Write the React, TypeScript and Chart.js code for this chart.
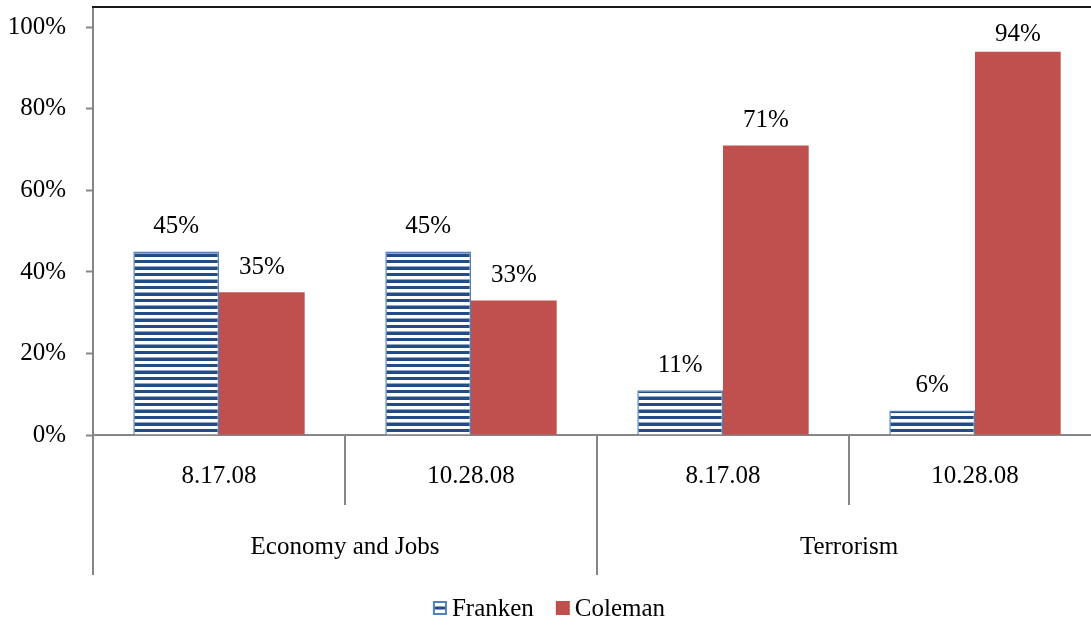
import React, { useEffect, useRef } from "react";
import { Chart, registerables } from "chart.js";

Chart.register(...registerables);

// ---- data ----
const categories: string[] = ["8.17.08", "10.28.08", "8.17.08", "10.28.08"];
const groups: string[] = ["Economy and Jobs", "Terrorism"];
const groupSizes: number[] = [2, 2];
const franken: number[] = [0.45, 0.45, 0.11, 0.06];
const coleman: number[] = [0.35, 0.33, 0.71, 0.94];
const seriesNames: string[] = ["Franken", "Coleman"];
const yTickValues: number[] = [0, 0.2, 0.4, 0.6, 0.8, 1.0];

// ---- styles ----
const FONT_FAMILY = "'Liberation Serif', 'Times New Roman', serif";
const FONT_SIZE = 25;
const AXIS_GRAY = "#868686";
const BLUE_BORDER = "#4F81BD";
const BLUE_DARK = "#234C84";
const RED = "#C0504D";

function makeStripePattern(): CanvasPattern | string {
  const c = document.createElement("canvas");
  c.width = 4;
  c.height = 13;
  const g = c.getContext("2d");
  if (!g) return BLUE_DARK;
  const rows = ["D", "D", "D", "W", "W", "W", "M", "D", "D", "D", "W", "W", "W"];
  rows.forEach((r, i) => {
    g.fillStyle = r === "D" ? BLUE_DARK : r === "M" ? "#8FA6C6" : "#FFFFFF";
    g.fillRect(0, i, 4, 1);
  });
  const p = g.createPattern(c, "repeat");
  return p || BLUE_DARK;
}

export default function App() {
  const ref = useRef<HTMLCanvasElement | null>(null);

  useEffect(() => {
    const canvas = ref.current;
    if (!canvas) return;
    const stripes = makeStripePattern();
    const pct = (v: number) => Math.round(v * 100) + "%";

    const topLine = {
      id: "topLine",
      afterDraw(chart: any) {
        const { ctx, chartArea } = chart;
        ctx.save();
        ctx.strokeStyle = "#1a1a1a";
        ctx.lineWidth = 2;
        ctx.beginPath();
        ctx.moveTo(chartArea.left - 1, chartArea.top);
        ctx.lineTo(chartArea.right, chartArea.top);
        ctx.stroke();
        ctx.restore();
      },
    };

    const valueLabels = {
      id: "valueLabels",
      afterDatasetsDraw(chart: any) {
        const { ctx, chartArea } = chart;
        ctx.save();
        ctx.font = `${FONT_SIZE}px ${FONT_FAMILY}`;
        ctx.fillStyle = "#000";
        ctx.textAlign = "center";
        ctx.textBaseline = "middle";
        chart.data.datasets.forEach((ds: any, di: number) => {
          const meta = chart.getDatasetMeta(di);
          meta.data.forEach((bar: any, i: number) => {
            const y = Math.max(bar.y - 25, chartArea.top + 27);
            ctx.fillText(pct(ds.data[i]), bar.x, y);
          });
        });
        ctx.restore();
      },
    };

    const groupAxis = {
      id: "groupAxis",
      afterDraw(chart: any) {
        const { ctx, chartArea } = chart;
        const xs = chart.scales.x;
        const step = xs.getPixelForValue(1) - xs.getPixelForValue(0);
        const boundary = (i: number) => xs.getPixelForValue(0) - step / 2 + i * step;
        const groupEdges = new Set<number>();
        let acc = 0;
        groupEdges.add(0);
        groupSizes.forEach((s) => {
          acc += s;
          groupEdges.add(acc);
        });
        ctx.save();
        ctx.strokeStyle = AXIS_GRAY;
        ctx.lineWidth = 2;
        for (let i = 0; i <= categories.length; i++) {
          const x = Math.round(boundary(i));
          const yEnd = groupEdges.has(i) ? 575 : 505;
          ctx.beginPath();
          ctx.moveTo(x, chartArea.bottom);
          ctx.lineTo(x, yEnd);
          ctx.stroke();
        }
        ctx.font = `${FONT_SIZE}px ${FONT_FAMILY}`;
        ctx.fillStyle = "#000";
        ctx.textAlign = "center";
        ctx.textBaseline = "middle";
        let start = 0;
        groups.forEach((g, gi) => {
          const x0 = boundary(start);
          const x1 = boundary(start + groupSizes[gi]);
          ctx.fillText(g, (x0 + x1) / 2, 547);
          start += groupSizes[gi];
        });
        ctx.restore();
      },
    };

    const customLegend = {
      id: "customLegend",
      afterDraw(chart: any) {
        const { ctx } = chart;
        ctx.save();
        ctx.font = `${FONT_SIZE}px ${FONT_FAMILY}`;
        ctx.textBaseline = "middle";
        ctx.textAlign = "left";
        const box = 14;
        const gap = 5;
        const itemGap = 22;
        const widths = seriesNames.map((n) => ctx.measureText(n).width);
        const total = widths.reduce((a, w) => a + box + gap + w, 0) + itemGap * (seriesNames.length - 1);
        let x = 549 - total / 2;
        const y = 608;
        chart.data.datasets.forEach((ds: any, i: number) => {
          const bx = x;
          const by = y - box / 2;
          if (i === 0) {
            ctx.fillStyle = "#fff";
            ctx.fillRect(bx, by, box, box);
            ctx.fillStyle = BLUE_DARK;
            ctx.fillRect(bx + 2, by + 5.5, box - 4, 3);
            ctx.strokeStyle = BLUE_BORDER;
            ctx.lineWidth = 2;
            ctx.strokeRect(bx + 1, by + 1, box - 2, box - 2);
          } else {
            ctx.fillStyle = ds.backgroundColor;
            ctx.fillRect(bx, by, box, box);
          }
          ctx.fillStyle = "#000";
          ctx.fillText(ds.label, bx + box + gap, y + 1);
          x += box + gap + widths[i] + itemGap;
        });
        ctx.restore();
      },
    };

    const zeroPad = (scale: any) => {
      scale.paddingTop = 0;
      scale.paddingBottom = 0;
      scale.paddingLeft = 0;
      scale.paddingRight = 0;
    };

    const chart = new Chart(canvas, {
      type: "bar",
      data: {
        labels: categories,
        datasets: [
          {
            label: seriesNames[0],
            data: franken,
            backgroundColor: stripes as any,
            borderColor: BLUE_BORDER,
            borderWidth: 1.5,
            borderSkipped: "bottom",
            categoryPercentage: 0.68,
            barPercentage: 1.0,
          },
          {
            label: seriesNames[1],
            data: coleman,
            backgroundColor: RED,
            borderWidth: 0,
            categoryPercentage: 0.68,
            barPercentage: 1.0,
          },
        ],
      },
      options: {
        animation: false,
        responsive: false,
        maintainAspectRatio: false,
        layout: { autoPadding: false, padding: { left: 0, right: 19, top: 7, bottom: 0 } },
        plugins: {
          legend: { display: false },
          tooltip: { enabled: false },
          title: { display: false },
        },
        scales: {
          x: {
            type: "category",
            grid: { display: false, drawTicks: false },
            border: { display: true, color: AXIS_GRAY, width: 2 },
            ticks: {
              color: "#000",
              font: { family: FONT_FAMILY, size: FONT_SIZE },
              padding: 26,
              maxRotation: 0,
              autoSkip: false,
            },
            afterFit(scale: any) {
              scale.height = 192;
              zeroPad(scale);
            },
          },
          y: {
            min: 0,
            max: 1.05,
            grid: {
              drawOnChartArea: false,
              drawTicks: true,
              tickLength: 7,
              tickWidth: 2,
              tickColor: AXIS_GRAY,
            },
            border: { display: true, color: AXIS_GRAY, width: 2 },
            ticks: {
              stepSize: 0.2,
              includeBounds: false,
              color: "#000",
              font: { family: FONT_FAMILY, size: FONT_SIZE },
              padding: 20,
              callback: (v: any) => pct(Number(v)),
            },
            afterBuildTicks(scale: any) {
              scale.ticks = yTickValues.map((v) => ({ value: v }));
            },
            afterFit(scale: any) {
              scale.width = 93;
              zeroPad(scale);
            },
          },
        },
      },
      plugins: [topLine, valueLabels, groupAxis, customLegend],
    });

    return () => chart.destroy();
  }, []);

  return (
    <div
      style={{
        position: "absolute",
        left: 0,
        top: 0,
        width: 1091,
        height: 627,
        overflow: "hidden",
        background: "#fff",
      }}
    >
      <canvas ref={ref} width={1120} height={627} style={{ display: "block" }} />
    </div>
  );
}
